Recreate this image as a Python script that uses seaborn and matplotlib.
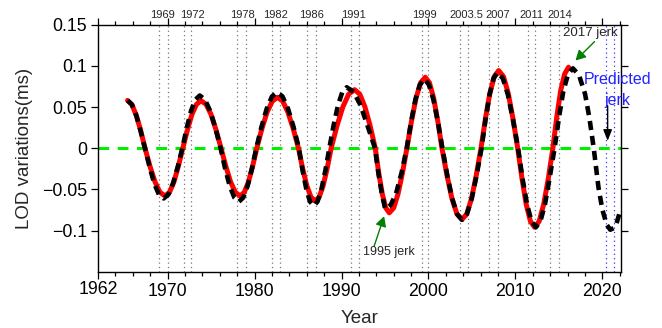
import numpy as np
import pandas as pd
import seaborn as sns
import matplotlib
matplotlib.use("Agg")
import matplotlib.pyplot as plt
from matplotlib.ticker import MultipleLocator, FixedLocator, FixedFormatter
from matplotlib.transforms import blended_transform_factory, ScaledTranslation

# ---------------- data ----------------
red_years = [1965.4, 1965.9, 1966.4, 1966.9, 1967.41, 1967.98, 1968.56, 1969.13, 1969.71, 1970.22, 1970.73,
             1971.24, 1971.75, 1972.28, 1972.8, 1973.33, 1973.85, 1974.43, 1975.0, 1975.58, 1976.15, 1976.7,
             1977.25, 1977.8, 1978.34, 1978.82, 1979.3, 1979.78, 1980.26, 1980.85, 1981.44, 1982.04, 1982.63,
             1983.24, 1983.84, 1984.45, 1985.05, 1985.53, 1986.01, 1986.49, 1986.97, 1987.43, 1987.89, 1988.35,
             1988.81, 1989.48, 1990.16, 1990.83, 1991.5, 1992.1, 1992.69, 1993.29, 1993.88, 1994.28, 1994.69,
             1995.09, 1995.49, 1996.0, 1996.5, 1997.01, 1997.52, 1998.05, 1998.57, 1999.1, 1999.63, 2000.11,
             2000.59, 2001.07, 2001.55, 2002.13, 2002.7, 2003.28, 2003.85, 2004.4, 2004.95, 2005.49, 2006.04,
             2006.55, 2007.06, 2007.56, 2008.07, 2008.62, 2009.17, 2009.71, 2010.26, 2010.75, 2011.23, 2011.72,
             2012.2, 2012.73, 2013.25, 2013.78, 2014.3, 2014.75, 2015.2, 2015.65, 2016.1]
red_lod = [0.058, 0.053, 0.040, 0.022, 0.0, -0.022, -0.041, -0.0536, -0.058, -0.0536, -0.041,
           -0.022, 0.0, 0.022, 0.041, 0.0533, 0.0577, 0.0533, 0.041, 0.022, 0.0, -0.022,
           -0.041, -0.0536, -0.058, -0.0536, -0.041, -0.022, 0.0, 0.0237, 0.0437, 0.0571, 0.0618,
           0.0571, 0.0437, 0.0237, 0.0, -0.0246, -0.0455, -0.0594, -0.0643, -0.0594, -0.0455, -0.0246,
           0.0, 0.0272, 0.0503, 0.0657, 0.0711, 0.0657, 0.0503, 0.0272, 0.0, -0.030, -0.0555,
           -0.0725, -0.0785, -0.0725, -0.0555, -0.030, 0.0, 0.033, 0.061, 0.0796, 0.0862, 0.0796,
           0.061, 0.033, 0.0, -0.0331, -0.0612, -0.080, -0.0866, -0.080, -0.0612, -0.0331, 0.0,
           0.0361, 0.0667, 0.0871, 0.0943, 0.0871, 0.0667, 0.0361, 0.0, -0.0367, -0.0679, -0.0887,
           -0.096, -0.0887, -0.0679, -0.0367, 0.0, 0.038, 0.070, 0.090, 0.0984]

black_years = [1965.4, 1965.9, 1966.4, 1966.9, 1967.4, 1967.94, 1968.47, 1969.01, 1969.55, 1970.09, 1970.62,
               1971.16, 1971.7, 1972.2, 1972.7, 1973.2, 1973.7, 1974.3, 1974.9, 1975.5, 1976.1, 1976.62,
               1977.15, 1977.68, 1978.2, 1978.7, 1979.2, 1979.7, 1980.2, 1980.8, 1981.4, 1982.0, 1982.6,
               1983.22, 1983.85, 1984.48, 1985.1, 1985.52, 1985.95, 1986.37, 1986.8, 1987.25, 1987.7, 1988.15,
               1988.6, 1989.1, 1989.6, 1990.1, 1990.6, 1991.39, 1992.18, 1992.96, 1993.85, 1994.25, 1994.65,
               1995.03, 1995.65, 1996.27, 1996.9, 1997.5, 1998.0, 1998.5, 1999.0, 1999.55, 2000.05, 2000.57,
               2001.08, 2001.6, 2002.16, 2002.72, 2003.29, 2003.85, 2004.41, 2004.97, 2005.53, 2006.1, 2006.56,
               2007.02, 2007.49, 2007.95, 2008.54, 2009.13, 2009.71, 2010.3, 2010.81, 2011.33, 2011.84, 2012.35,
               2012.87, 2013.4, 2013.92, 2014.5, 2015.0, 2015.5, 2016.05, 2016.6, 2017.3, 2018.0, 2018.5,
               2019.0, 2019.55, 2020.0, 2020.5, 2020.9, 2021.3, 2021.6, 2022.1]
black_lod = [0.058, 0.053, 0.040, 0.021, 0.0, -0.023, -0.043, -0.0564, -0.061, -0.0564, -0.043,
             -0.023, 0.0, 0.0245, 0.0453, 0.059, 0.064, 0.059, 0.0453, 0.0245, 0.0, -0.0249,
             -0.046, -0.060, -0.065, -0.060, -0.046, -0.0249, 0.0, 0.026, 0.048, 0.0628, 0.068,
             0.0628, 0.048, 0.026, 0.0, -0.0268, -0.0495, -0.0647, -0.070, -0.0647, -0.0495, -0.0268,
             0.0, 0.0283, 0.0523, 0.0684, 0.074, 0.0684, 0.0523, 0.0283, 0.0, -0.031, -0.056,
             -0.074, -0.069, -0.055, -0.030, 0.0, 0.032, 0.059, 0.077, 0.084, 0.077, 0.059,
             0.032, 0.0, -0.033, -0.061, -0.080, -0.087, -0.080, -0.061, -0.033, 0.0, 0.035,
             0.065, 0.085, 0.092, 0.085, 0.065, 0.035, 0.0, -0.0367, -0.068, -0.0887, -0.096,
             -0.0887, -0.068, -0.0367, 0.0, 0.037, 0.069, 0.090, 0.097, 0.089, 0.066, 0.037,
             0.0, -0.048, -0.075, -0.093, -0.099, -0.097, -0.092, -0.074]

jerk_lines = [1969.0, 1970.0, 1971.9, 1972.7, 1978.0, 1979.0, 1982.05, 1982.95, 1986.0, 1987.05,
              1991.1, 1992.0, 1999.3, 2000.0, 2003.6, 2004.5, 2007.0, 2008.05, 2011.4, 2012.3,
              2014.0, 2015.0]
predicted_lines = [2020.45, 2021.3]

jerk_labels = ["1969", "1972", "1978", "1982", "1986", "1991", "1999", "2003.5", "2007", "2011", "2014"]
jerk_label_x = [1969.4, 1972.9, 1978.6, 1982.4, 1986.5, 1991.4, 1999.5, 2004.3, 2008.0, 2011.8, 2015.1]

x_major_ticks = [1962, 1970, 1980, 1990, 2000, 2010, 2020]
y_ticks = [-0.1, -0.05, 0.0, 0.05, 0.1, 0.15]
y_tick_labels = ["\u22120.1", "\u22120.05", "0", "0.05", "0.1", "0.15"]

red_df = pd.DataFrame({"Year": red_years, "LOD": red_lod})
black_df = pd.DataFrame({"Year": black_years, "LOD": black_lod})

# ---------------- style ----------------
sns.set_style("ticks")
plt.rcParams["font.family"] = ["Liberation Sans", "DejaVu Sans"]
plt.rcParams["axes.linewidth"] = 1.0

fig = plt.figure(figsize=(6.62, 3.28), dpi=100)
ax = fig.add_axes([0.148, 0.1716, 0.7896, 0.7531])

# dotted jerk lines
for xv in jerk_lines:
    ax.axvline(xv, color="#777777", lw=0.9, ls=(0, (1, 2.5)), zorder=1)
for xv in predicted_lines:
    ax.axvline(xv, color="#3333ff", lw=0.9, ls=(0, (1, 2.5)), zorder=1)

# zero line
ax.axhline(0, color="#00ee00", lw=2.2, ls=(0, (3.5, 2.8)), zorder=2)

sns.lineplot(data=red_df, x="Year", y="LOD", ax=ax, color="#ff0000", lw=3.6, zorder=3,
             solid_capstyle="round", sort=False)
sns.lineplot(data=black_df, x="Year", y="LOD", ax=ax, color="black", lw=3.3, zorder=4,
             linestyle=(0, (2.0, 1.3)), sort=False)

ax.set_xlim(1962, 2022.1)
ax.set_ylim(-0.15, 0.15)

ax.xaxis.set_major_locator(FixedLocator(x_major_ticks))
ax.xaxis.set_minor_locator(MultipleLocator(2))
ax.yaxis.set_major_locator(FixedLocator(y_ticks))
ax.yaxis.set_major_formatter(FixedFormatter(y_tick_labels))

ax.tick_params(which="both", direction="out", top=True, right=True, width=0.9, labelsize=12.8, pad=3,
               colors="black")
ax.tick_params(which="major", length=5)
ax.tick_params(which="minor", length=3)
for s in ax.spines.values():
    s.set_color("black")
    s.set_linewidth(1.0)

ax.set_xlabel("Year", fontsize=13.5, labelpad=7)
ax.set_ylabel("LOD variations(ms)", fontsize=13.5, labelpad=6)

# raise the first x tick label slightly, as in the reference
fig.canvas.draw()
first = ax.get_xticklabels()[0]
first.set_transform(first.get_transform() + ScaledTranslation(0, 2 / 100, fig.dpi_scale_trans))

# top jerk labels
trans = blended_transform_factory(ax.transData, ax.transAxes)
for lab, xv in zip(jerk_labels, jerk_label_x):
    ax.text(xv, 1.02, lab, transform=trans, ha="center", va="bottom", fontsize=8, clip_on=False)

# annotations
green_arrow = dict(arrowstyle="-|>,head_length=0.5,head_width=0.27", color="#008000",
                   lw=1.0, mutation_scale=12, shrinkA=0, shrinkB=0)
ax.annotate("", xy=(2016.9, 0.1065), xytext=(2019.1, 0.1295), arrowprops=green_arrow)
ax.text(2018.6, 0.1365, "2017 jerk", ha="center", va="baseline", fontsize=9.5)

ax.annotate("", xy=(1994.9, -0.0826), xytext=(1993.75, -0.119), arrowprops=green_arrow)
ax.text(1995.5, -0.1295, "1995 jerk", ha="center", va="baseline", fontsize=9)

ax.text(2021.7, 0.0705, "Predicted\njerk", ha="center", va="center", fontsize=11.5,
        color="#2222ff", linespacing=1.5, clip_on=False)
ax.annotate("", xy=(2020.6, 0.009), xytext=(2020.6, 0.0515),
            arrowprops=dict(arrowstyle="-|>,head_length=0.55,head_width=0.22", color="black", lw=1.0,
                            mutation_scale=12, shrinkA=0, shrinkB=0))

fig.savefig("out.png", dpi=100)
